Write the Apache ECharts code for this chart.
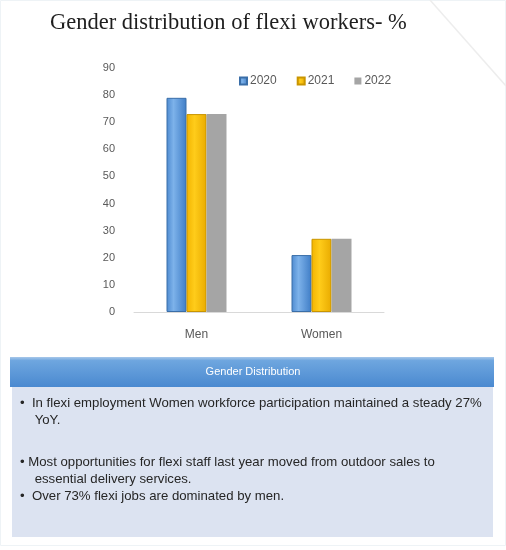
<!DOCTYPE html>
<html>
<head>
<meta charset="utf-8">
<script src="https://cdn.jsdelivr.net/npm/echarts@6/dist/echarts.min.js"></script>
<style>
  html, body { margin: 0; padding: 0; background: #ffffff; }
  #chart { width: 506px; height: 550px; }
</style>
</head>
<body>
<div id="chart"></div>
<script>
// Share of flexi workers by gender, per year (%)
const categories = ['Men', 'Women'];
const years = ['2020', '2021', '2022'];
const values2020 = [79, 21];
const values2021 = [73, 27];
const values2022 = [73, 27];
const yTicks = { min: 0, max: 90, interval: 10 };

const titleText = 'Gender distribution of flexi workers- %';
const boxHeading = 'Gender Distribution';
const notes = [
  { y: 403, text: '\u2022  In flexi employment Women workforce participation maintained a steady 27%' },
  { y: 420, text: '    YoY.' },
  { y: 462, text: '\u2022 Most opportunities for flexi staff last year moved from outdoor sales to' },
  { y: 479, text: '    essential delivery services.' },
  { y: 496, text: '\u2022  Over 73% flexi jobs are dominated by men.' }
];

const sansFont = '"Liberation Sans", Arial, sans-serif';

const blueFill = new echarts.graphic.LinearGradient(0, 0, 1, 0, [
  { offset: 0, color: '#4d8ad0' },
  { offset: 0.35, color: '#7db2ea' },
  { offset: 1, color: '#3f7dc6' }
]);
const yellowFill = new echarts.graphic.LinearGradient(0, 0, 1, 0, [
  { offset: 0, color: '#f2b400' },
  { offset: 0.4, color: '#ffcc1a' },
  { offset: 1, color: '#e9ab00' }
]);

function barSeries(name, data, fill, border) {
  return {
    name: name,
    type: 'bar',
    data: data,
    barWidth: 20,
    barGap: '0%',
    itemStyle: { color: fill, borderColor: border, borderWidth: border ? 1 : 0 }
  };
}

const chart = echarts.init(document.getElementById('chart'), null, { renderer: 'canvas' });

const graphics = [
  // faint frame and diagonal accent
  { type: 'rect', shape: { x: 0.5, y: 0.5, width: 505, height: 545 }, style: { fill: 'none', stroke: '#eef3f6', lineWidth: 1 }, z: 0 },
  { type: 'line', shape: { x1: 430, y1: 0, x2: 506, y2: 86 }, style: { stroke: '#ededed', lineWidth: 1.5 }, z: 0 },
  // title
  { type: 'text', left: 50, top: 12, style: { text: titleText, font: '22.5px "Liberation Serif", "DejaVu Serif", serif', fill: '#1e1e1e' }, z: 5 },
  // notes panel body
  { type: 'rect', shape: { x: 12, y: 386, width: 481, height: 151 }, style: { fill: '#dce3f1' }, z: 1 },
  // notes panel heading band
  { type: 'rect', shape: { x: 10, y: 357, width: 484, height: 30 },
    style: { fill: new echarts.graphic.LinearGradient(0, 0, 0, 1, [
      { offset: 0, color: '#a8c8ea' },
      { offset: 0.12, color: '#6ea6df' },
      { offset: 1, color: '#4a89d0' }
    ]) }, z: 2 },
  { type: 'text', x: 253, y: 372, style: { text: boxHeading, font: '11px ' + sansFont, fill: '#ffffff', align: 'center', verticalAlign: 'middle' }, z: 3 }
];
notes.forEach(function (n) {
  graphics.push({ type: 'text', x: 20, y: n.y, style: { text: n.text, font: '13.2px ' + sansFont, fill: '#262626', verticalAlign: 'middle' }, z: 3 });
});

chart.setOption({
  animation: false,
  backgroundColor: '#ffffff',
  grid: { left: 134, right: 122, top: 68, bottom: 238, containLabel: false },
  legend: {
    left: 234, top: 70,
    itemWidth: 7, itemHeight: 7, itemGap: 20,
    icon: 'rect',
    textStyle: { fontSize: 12, color: '#595959', fontFamily: sansFont, padding: [0, 0, 0, -2] },
    data: years
  },
  xAxis: {
    type: 'category',
    data: categories,
    axisLine: { lineStyle: { color: '#d9d9d9' } },
    axisTick: { show: false },
    axisLabel: { fontSize: 12, color: '#595959', margin: 17, fontFamily: sansFont }
  },
  yAxis: {
    type: 'value',
    min: yTicks.min, max: yTicks.max, interval: yTicks.interval,
    axisLine: { show: false },
    axisTick: { show: false },
    splitLine: { show: false },
    axisLabel: { fontSize: 11, color: '#595959', margin: 19, fontFamily: sansFont }
  },
  series: [
    barSeries(years[0], values2020, blueFill, '#3a6ea8'),
    barSeries(years[1], values2021, yellowFill, '#c99500'),
    barSeries(years[2], values2022, '#a5a5a5', null)
  ],
  color: ['#4f8bd0', '#ffc000', '#a5a5a5'],
  graphic: graphics
});
</script>
</body>
</html>
